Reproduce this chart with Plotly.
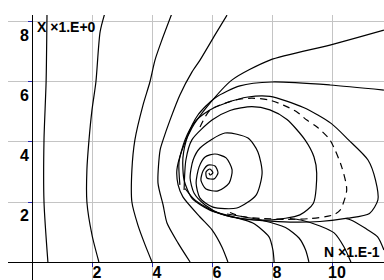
import plotly.graph_objects as go

# tick values
x_ticks = [2, 4, 6, 8, 10]
y_ticks = [2, 4, 6, 8]

# trajectories (data units)
c1_x = [0.5, 0.47, 0.4, 0.4, 0.53]
c1_y = [8.3, 6.0, 4.07, 2.0, 0.0]

c2_x = [2.43, 2.27, 2.13, 2.0, 1.9, 1.83, 1.83, 2.0, 2.23]
c2_y = [8.3, 7.67, 6.0, 5.07, 4.07, 3.07, 2.0, 0.9, 0.0]

c3_x = [4.67, 4.33, 4.1, 3.93, 3.7, 3.43, 3.33, 3.33, 3.53, 3.77, 4.0]
c3_y = [8.3, 7.4, 6.73, 6.0, 5.23, 4.07, 3.07, 2.0, 1.23, 0.57, 0.0]

c4_x = [6.5, 6.1, 5.6, 5.33, 4.93, 4.6, 4.37, 4.27, 4.2, 4.37, 4.5, 4.87, 5.27]
c4_y = [8.23, 7.57, 6.73, 6.33, 5.57, 4.73, 4.07, 3.73, 2.63, 1.9, 1.3, 0.63, 0.0]

c5_x = [11.73, 9.93, 7.93, 6.67, 5.83, 5.33, 5.0, 4.83, 4.87, 5.03, 5.6, 6.0, 6.33, 6.53]
c5_y = [7.73, 7.23, 6.73, 6.07, 5.17, 4.47, 3.73, 3.07, 2.57, 2.17, 1.5, 1.07, 0.5, 0.0]

c6_x = [11.73, 9.93, 8.0, 6.93, 6.1, 5.53, 5.2, 5.03, 5.07, 5.33, 5.93, 6.69, 7.36, 7.9, 8.03, 8.07]
c6_y = [5.73, 5.9, 6.0, 5.87, 5.47, 4.9, 4.23, 3.47, 2.73, 2.13, 1.73, 1.51, 1.3, 0.84, 0.4, 0.0]

c7_x = [6.5, 7.62, 8.45, 8.9, 9.12, 9.23]
c7_y = [1.6, 1.4, 1.15, 0.8, 0.4, 0.0]

c8_x = [8.6, 8.96, 9.6, 10.07, 10.4, 10.63]
c8_y = [1.45, 1.4, 1.2, 0.97, 0.5, 0.0]

c9_x = [10.45, 10.63, 11.1, 11.52, 11.73]
c9_y = [1.45, 1.4, 1.13, 0.84, 0.4]

outer_x = [4.93, 4.9, 5.1, 5.43, 5.9, 6.47, 7.2, 7.93, 9.05, 9.97, 10.55, 11.2, 11.45,
           11.53, 11.25, 10.52, 9.6, 8.6, 7.67, 6.93, 6.1, 5.43, 5.1]
outer_y = [2.57, 3.33, 4.07, 4.67, 5.05, 5.3, 5.5, 5.52, 5.15, 4.62, 4.07, 3.4, 2.73,
           2.07, 1.62, 1.46, 1.35, 1.33, 1.38, 1.45, 1.67, 2.07, 2.45]

spiral_x = [5.07, 5.13, 5.33, 6.0, 6.6, 7.33, 7.93, 8.5, 9.1, 9.4, 9.49, 9.38, 8.93, 7.93,
            7.0, 6.3, 5.77, 5.4, 5.27, 5.37, 5.6, 6.43, 7.2, 7.53, 7.67, 7.47, 6.83, 6.03,
            5.6, 5.47, 5.57, 5.77, 6.1, 6.47, 6.67, 6.57, 6.2, 5.8, 5.63, 5.7, 5.87, 6.1,
            6.2, 6.07, 5.83, 5.8, 5.93, 6.03, 5.93, 5.9]
spiral_y = [2.4, 3.4, 4.07, 4.73, 5.05, 5.18, 5.07, 4.75, 4.07, 3.5, 2.96, 1.96, 1.57, 1.4,
            1.45, 1.6, 1.9, 2.3, 2.8, 3.4, 3.8, 4.3, 4.13, 3.67, 2.97, 2.23, 1.8, 1.83,
            2.13, 2.63, 3.17, 3.5, 3.6, 3.47, 3.07, 2.63, 2.37, 2.43, 2.73, 3.03, 3.23, 3.2,
            2.97, 2.77, 2.8, 3.0, 3.1, 2.97, 2.9, 2.97]

dash_x = [5.6, 5.94, 6.78, 7.33, 7.9, 8.38, 8.82, 9.16, 9.49, 9.93, 10.32, 10.49, 10.27,
          10.04, 9.3, 8.5, 7.7, 7.0, 6.6]
dash_y = [4.5, 5.07, 5.4, 5.46, 5.4, 5.23, 5.01, 4.73, 4.51, 4.07, 3.18, 2.4, 1.73,
          1.57, 1.45, 1.42, 1.45, 1.51, 1.65]

solid_curves = [(c1_x, c1_y), (c2_x, c2_y), (c3_x, c3_y), (c4_x, c4_y), (c5_x, c5_y),
                (c6_x, c6_y), (c7_x, c7_y), (c8_x, c8_y), (c9_x, c9_y),
                (outer_x, outer_y), (spiral_x, spiral_y)]

X_RANGE = [-0.8, 11.733]
Y_RANGE = [-0.6, 8.233]

fig = go.Figure()
for xs, ys in solid_curves:
    fig.add_trace(go.Scatter(x=xs, y=ys, mode="lines",
                             line=dict(color="black", width=1.2, shape="spline", smoothing=0.7),
                             hoverinfo="skip", showlegend=False))
fig.add_trace(go.Scatter(x=dash_x, y=dash_y, mode="lines",
                         line=dict(color="black", width=1.2, dash="7px,5px", shape="spline", smoothing=0.7),
                         hoverinfo="skip", showlegend=False))
# carrier trace for the tick-bearing overlay axes
fig.add_trace(go.Scatter(x=[None], y=[None], xaxis="x2", yaxis="y2", mode="lines",
                         hoverinfo="skip", showlegend=False))

tick_font = dict(family="Liberation Sans Narrow, Arial Narrow, Liberation Sans, Arial", size=16,
                 color="black")
title_font = dict(family="Liberation Sans, Arial", size=14, color="black")

fig.update_layout(
    width=384, height=280,
    margin=dict(l=8, r=0, t=15, b=0, autoexpand=False),
    paper_bgcolor="white", plot_bgcolor="white",
    xaxis=dict(range=X_RANGE, domain=[0, 1], anchor="y",
               tickmode="array", tickvals=x_ticks,
               showgrid=True, gridcolor="#c4c4c4", gridwidth=1,
               zeroline=True, zerolinecolor="black", zerolinewidth=1,
               showline=False, automargin=False, ticks="", showticklabels=False),
    yaxis=dict(range=Y_RANGE, domain=[0, 1], anchor="x",
               tickmode="array", tickvals=y_ticks,
               showgrid=True, gridcolor="#c4c4c4", gridwidth=1,
               zeroline=True, zerolinecolor="black", zerolinewidth=1,
               showline=False, automargin=False, ticks="", showticklabels=False),
    xaxis2=dict(range=X_RANGE, overlaying="x", anchor="free", position=0.6 / 8.833,
                tickmode="array", tickvals=x_ticks, ticktext=["<b>%d</b>" % v for v in x_ticks],
                showgrid=False, zeroline=False, showline=False, automargin=False,
                ticks="outside", ticklen=4, tickcolor="#2828b4", tickwidth=1,
                tickfont=tick_font, ticklabelshift=5, ticklabelstandoff=-8),
    yaxis2=dict(range=Y_RANGE, overlaying="y", anchor="free", position=0.8 / 12.533,
                tickmode="array", tickvals=y_ticks, ticktext=["<b>%d</b>" % v for v in y_ticks],
                showgrid=False, zeroline=False, showline=False, automargin=False,
                ticks="outside", ticklen=4, tickcolor="#2828b4", tickwidth=1,
                tickfont=tick_font, ticklabelshift=13, ticklabelstandoff=-4),
    annotations=[
        dict(x=0.1, y=7.83, xref="x", yref="y", text="<b>X ×1.E+0</b>", showarrow=False,
             xanchor="left", yanchor="middle", font=title_font),
        dict(x=9.65, y=0.35, xref="x", yref="y", text="<b>N ×1.E-1</b>", showarrow=False,
             xanchor="left", yanchor="middle", font=title_font),
    ],
)

fig.write_html("out.html", config={"displayModeBar": False},
               post_script="document.body.style.margin='0px';")
